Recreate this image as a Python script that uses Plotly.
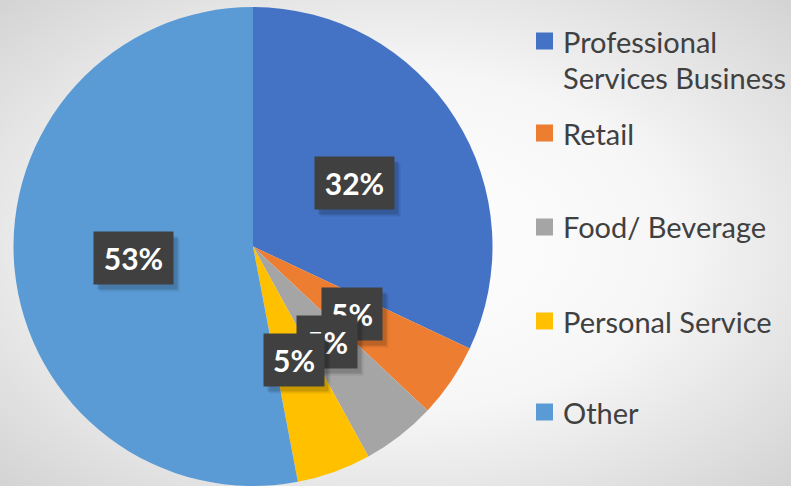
import math
import plotly.graph_objects as go

categories = ["Professional Services Business", "Retail", "Food/ Beverage", "Personal Service", "Other"]
legend_labels = ["Professional<br>Services Business", "Retail", "Food/ Beverage", "Personal Service", "Other"]
values = [32, 5, 5, 5, 53]
colors = ["#4472C4", "#ED7D31", "#A5A5A5", "#FFC000", "#5B9BD5"]

W, H = 791, 486
cx_px, cy_px, R_px = 253, 247, 240

bg_svg = (
    "data:image/svg+xml;utf8,"
    "<svg xmlns='http://www.w3.org/2000/svg' width='791' height='486'>"
    "<defs><radialGradient id='g' cx='0.5' cy='0.5' r='0.7'>"
    "<stop offset='0' stop-color='%23ffffff'/>"
    "<stop offset='0.5' stop-color='%23f6f6f6'/>"
    "<stop offset='1' stop-color='%23d4d4d4'/>"
    "</radialGradient></defs>"
    "<rect width='791' height='486' fill='url(%23g)'/></svg>"
)

fig = go.Figure()
fig.add_trace(go.Pie(
    labels=categories,
    values=values,
    marker=dict(colors=colors, line=dict(width=0)),
    sort=False,
    direction="clockwise",
    rotation=0,
    textinfo="none",
    hoverinfo="label+percent",
    showlegend=False,
    domain=dict(x=[(cx_px - R_px) / W, (cx_px + R_px) / W],
                y=[max(0, 1 - (cy_px + R_px) / H), 1 - (cy_px - R_px) / H]),
))

total = sum(values)
annotations = []
cum = 0
for v in values:
    mid = (cum + v / 2) / total * 2 * math.pi
    cum += v
    px = cx_px + 0.5 * R_px * math.sin(mid)
    py = cy_px - 0.5 * R_px * math.cos(mid)
    txt = f"{round(v / total * 100)}%"
    bw = 22 + 19 * len(txt)
    # soft shadow
    for dx, dy, a in [(6, 7, 0.08), (4, 5, 0.14)]:
        annotations.append(dict(
            x=(px + dx) / W, y=1 - (py + dy) / H, xref="paper", yref="paper",
            xanchor="center", yanchor="middle",
            text=" ", showarrow=False, width=bw, height=52, borderpad=0,
            bgcolor=f"rgba(0,0,0,{a})", font=dict(size=20),
        ))
    annotations.append(dict(
        x=px / W, y=1 - py / H, xref="paper", yref="paper",
        xanchor="center", yanchor="middle",
        text=f"<b>{txt}</b>", showarrow=False, width=bw, height=52, borderpad=0,
        bgcolor="#404040", font=dict(family="Lato", size=30, color="white"),
    ))

shapes = []
legend_y = [41, 133, 227, 321, 412]
line_gap = 36
for lab, col, ly in zip(legend_labels, colors, legend_y):
    shapes.append(dict(type="rect", xref="paper", yref="paper",
                       x0=536 / W, x1=553 / W, y0=1 - (ly - 8.5) / H, y1=1 - (ly + 8.5) / H,
                       fillcolor=col, line=dict(width=0)))
    for i, line in enumerate(lab.split("<br>")):
        annotations.append(dict(
            x=561 / W, y=1 - (ly + i * line_gap) / H, xref="paper", yref="paper",
            xanchor="left", yanchor="middle", align="left",
            text=line, showarrow=False,
            font=dict(family="Lato", size=29, color="#404040"),
        ))

fig.update_layout(
    width=W, height=H,
    margin=dict(l=0, r=0, t=0, b=0),
    paper_bgcolor="#eeeeee",
    plot_bgcolor="rgba(0,0,0,0)",
    showlegend=False,
    annotations=annotations,
    shapes=shapes,
    images=[dict(source=bg_svg, xref="paper", yref="paper", x=0, y=1,
                 sizex=1, sizey=1, xanchor="left", yanchor="top",
                 sizing="stretch", layer="below")],
)

fig.write_html("out.html", config={"displayModeBar": False},
               post_script="document.body.style.margin='0';document.body.style.overflow='hidden';")
